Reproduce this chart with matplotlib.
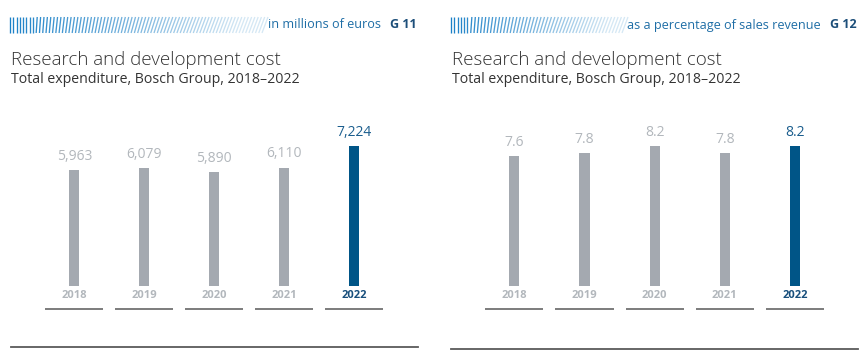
import matplotlib
matplotlib.use("Agg")
import matplotlib.pyplot as plt
from matplotlib.collections import LineCollection
from matplotlib.lines import Line2D
import matplotlib.transforms as mtransforms

# ---------------- data ----------------
years = ["2018", "2019", "2020", "2021", "2022"]
rd_cost = [5963, 6079, 5890, 6110, 7224]          # millions of euros
rd_pct = [7.6, 7.8, 8.2, 7.8, 8.2]                 # % of sales revenue
cost_labels = [f"{v:,}" for v in rd_cost]
pct_labels = [f"{v:.1f}" for v in rd_pct]

title = "Research and development cost"
subtitle = "Total expenditure, Bosch Group, 2018\u20132022"
unit_left = "in millions of euros"
unit_right = "as a percentage of sales revenue"
code_left = "G 11"
code_right = "G 12"

# ---------------- style ----------------
W, H = 865, 358
DPI = 100
GRAY_BAR = "#a4a9b0"
BLUE_BAR = "#005587"
GRAY_TXT = "#b2b7bc"
BLUE_TXT = "#1b5e8e"
YEAR_BLUE = "#184f7c"
HEAD_BLUE = "#1f6ea6"
DARK = "#333333"
LINE = "#5a5a5a"
FONT = ["Open Sans", "DejaVu Sans"]

plt.rcParams["font.family"] = FONT

fig = plt.figure(figsize=(W / DPI, H / DPI), dpi=DPI)
fig.patch.set_facecolor("white")


def fx(px):
    return px / W


def fy(py):  # py measured from the top
    return 1 - py / H


def stripes(x0, x1, ytop, ybot, n):
    segs, cols = [], []
    for i in range(n):
        t = i / (n - 1)
        x = x0 + (x1 - x0) * t
        slant = 0.0 if t < 0.1 else 1.0 + 5.0 * min(1.0, (t - 0.1) * 1.8)
        segs.append([(fx(x), fy(ybot)), (fx(x + slant), fy(ytop))])
        a = max(0.18, 1.0 - 0.9 * t)
        cols.append((0.10, 0.50, 0.78, a))
    lc = LineCollection(segs, colors=cols, linewidths=0.95, transform=fig.transFigure)
    fig.add_artist(lc)


def panel(left_px, ax_left, ax_right, values, labels, ylim, unit, code, stripe_end, bottom_line):
    # header
    stripes(left_px, stripe_end, 17, 33, int((stripe_end - left_px) / 3.2))
    code_x = bottom_line[1] - 1
    fig.text(fx(code_x), fy(28.5), code, ha="right", va="baseline",
             fontsize=9.0, fontweight="bold", color="#1d4f7a")
    fig.text(fx(code_x - 36), fy(28.5), unit, ha="right", va="baseline",
             fontsize=9.1, color=HEAD_BLUE)
    fig.text(fx(left_px + 1), fy(65), title, ha="left", va="baseline",
             fontsize=13.5, color=DARK, fontweight="light")
    fig.text(fx(left_px + 1), fy(83), subtitle, ha="left", va="baseline",
             fontsize=10.2, color=DARK)

    ax = fig.add_axes([fx(ax_left), fy(320), fx(ax_right - ax_left), 220 / H])
    ax.set_xlim(-0.5, len(values) - 0.5)
    ax.set_ylim(*ylim)
    ax.axis("off")
    xs = list(range(len(values)))
    colors = [GRAY_BAR] * (len(values) - 1) + [BLUE_BAR]
    ax.bar(xs, values, width=0.145, color=colors, linewidth=0)

    seg_tr = ax.transData + mtransforms.ScaledTranslation(0, -23 / DPI, fig.dpi_scale_trans)
    for i, (v, lab, yr) in enumerate(zip(values, labels, years)):
        last = i == len(values) - 1
        ax.annotate(lab, (i, v), xytext=(0, 4.5), textcoords="offset points",
                    ha="center", va="bottom", fontsize=10,
                    color=BLUE_TXT if last else GRAY_TXT)
        ax.annotate(yr, (i, 0), xytext=(0, -6.5), textcoords="offset points",
                    ha="center", va="center", fontsize=8.0, fontweight="bold",
                    color=YEAR_BLUE if last else GRAY_TXT)
        ax.plot([i - 0.415, i + 0.415], [0, 0], color="#666666", lw=1.2,
                transform=seg_tr, clip_on=False, solid_capstyle="butt")

    # bottom rule
    fig.add_artist(Line2D([fx(bottom_line[0]), fx(bottom_line[1])],
                          [fy(bottom_line[2]), fy(bottom_line[2])],
                          color=LINE, lw=1.3, transform=fig.transFigure))


panel(10, 39.3, 389.3, rd_cost, cost_labels, (-34 * 7224 / 140, 186 * 7224 / 140),
      unit_left, code_left, 262, (11, 418, 346.7))
panel(451, 479.3, 830, rd_pct, pct_labels, (-34 * 8.2 / 140, 186 * 8.2 / 140),
      unit_right, code_right, 622, (451, 858, 349.3))

fig.savefig("out.png", dpi=DPI, facecolor="white")
